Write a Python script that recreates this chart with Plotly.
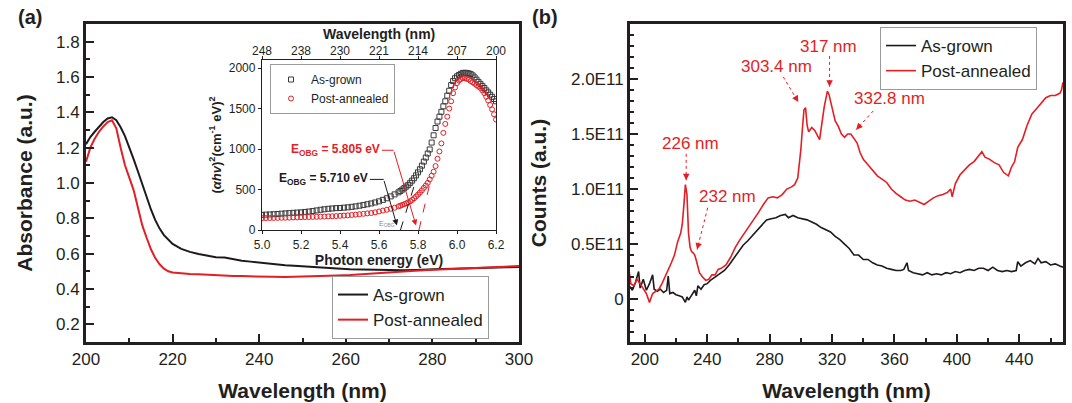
import plotly.graph_objects as go

W, H = 1072, 403
RED = "#e31e24"
BLK = "#1e1a1b"
AX = "#231f20"
FONT = "Arial, Liberation Sans, sans-serif"

# ---------------- Panel (a): absorbance ----------------
wl_a_grown = [200, 201, 202, 203, 204, 205, 206, 207, 208, 209, 210, 211, 212, 213, 214, 215, 216, 217, 218, 219,
              220, 222, 224, 226, 228, 230, 232, 234, 236, 238, 240, 243, 246, 249, 252, 255, 258, 261, 264, 267,
              270, 273, 276, 279, 282, 285, 288, 291, 294, 297, 300]
abs_grown = [1.22, 1.26, 1.29, 1.32, 1.345, 1.365, 1.372, 1.355, 1.315, 1.265, 1.205, 1.135, 1.065, 0.99, 0.92, 0.85, 0.79, 0.742, 0.705, 0.678,
             0.655, 0.627, 0.61, 0.598, 0.588, 0.58, 0.578, 0.568, 0.56, 0.555, 0.549, 0.543, 0.535, 0.53, 0.524, 0.52, 0.516, 0.512, 0.51, 0.507,
             0.505, 0.506, 0.508, 0.512, 0.513, 0.515, 0.518, 0.521, 0.52, 0.523, 0.525]
wl_a_ann = [200, 201, 202, 203, 204, 205, 206, 207, 208, 209, 210, 211, 212, 213, 214, 215, 216, 217, 218, 219,
            220, 222, 224, 226, 228, 230, 232, 234, 236, 238, 240, 243, 246, 249, 252, 255, 258, 261, 264, 267,
            270, 273, 276, 279, 282, 285, 288, 291, 294, 297, 300]
abs_ann = [1.12, 1.2, 1.25, 1.29, 1.32, 1.345, 1.355, 1.31, 1.2, 1.1, 1.03, 0.96, 0.86, 0.76, 0.69, 0.625, 0.575, 0.54, 0.515, 0.5,
           0.493, 0.488, 0.485, 0.483, 0.48, 0.478, 0.476, 0.474, 0.473, 0.471, 0.47, 0.469, 0.468, 0.469, 0.471, 0.473, 0.476, 0.479, 0.483, 0.488,
           0.494, 0.499, 0.503, 0.508, 0.511, 0.514, 0.517, 0.52, 0.523, 0.527, 0.53]

# ---------------- Inset: Tauc plot ----------------
energy = [5.00, 5.02, 5.04, 5.06, 5.08, 5.10, 5.12, 5.14, 5.16, 5.18, 5.20, 5.22, 5.24, 5.26, 5.28, 5.30, 5.32, 5.34,
          5.36, 5.38, 5.40, 5.42, 5.44, 5.46, 5.48, 5.50, 5.52, 5.54, 5.56, 5.58, 5.60, 5.62, 5.64, 5.66, 5.68, 5.70,
          5.71, 5.72, 5.73, 5.74, 5.75, 5.76, 5.77, 5.78, 5.79, 5.80, 5.81, 5.82, 5.83, 5.84, 5.85, 5.86, 5.87, 5.88,
          5.89, 5.90, 5.91, 5.92, 5.93, 5.94, 5.95, 5.96, 5.97, 5.98, 5.99, 6.00, 6.01, 6.02, 6.03, 6.04, 6.05, 6.06,
          6.07, 6.08, 6.09, 6.10, 6.11, 6.12, 6.13, 6.14, 6.15, 6.16, 6.17, 6.18, 6.19, 6.20]
tauc_grown = [187, 190, 192, 195, 198, 202, 205, 208, 212, 215, 218, 223, 228, 235, 242, 250, 256, 262,
              266, 270, 272, 276, 280, 286, 292, 300, 308, 318, 328, 340, 354, 372, 392, 415, 440, 465,
              482, 500, 518, 537, 558, 583, 610, 640, 675, 712, 750, 795, 845, 895, 945, 995, 1080, 1170,
              1260, 1340, 1400, 1460, 1528, 1590, 1660, 1720, 1790, 1840, 1875, 1898, 1915, 1930, 1940, 1942, 1940, 1935,
              1926, 1910, 1885, 1857, 1830, 1805, 1780, 1754, 1725, 1700, 1672, 1645, 1618, 1590]
tauc_ann = [146, 147, 148, 149, 150, 151, 152, 153, 155, 156, 158, 159, 160, 162, 163, 165, 166, 168,
            170, 172, 175, 178, 181, 185, 190, 195, 200, 205, 210, 218, 229, 240, 250, 262, 275, 292,
            300, 310, 320, 330, 342, 354, 372, 392, 414, 437, 462, 490, 520, 550, 583, 625, 670, 720,
            790, 880, 970, 1070, 1200, 1310, 1400, 1500, 1590, 1690, 1760, 1815, 1845, 1865, 1875, 1875, 1868, 1860,
            1840, 1825, 1808, 1790, 1772, 1754, 1725, 1690, 1645, 1600, 1545, 1490, 1430, 1364]
wavelength_ticks = ["248", "238", "230", "221", "214", "207", "200"]
energy_ticks = [5.0, 5.2, 5.4, 5.6, 5.8, 6.0, 6.2]
tauc_ticks = [0, 500, 1000, 1500, 2000]
tangent_grown_x = [5.71, 5.79]
tangent_grown_y = [0, 620]
tangent_ann_x = [5.805, 5.865]
tangent_ann_y = [0, 620]
eobg_ann_text = "<b>E<sub>OBG</sub> = 5.805 eV</b>"
eobg_grown_text = "<b>E<sub>OBG</sub> = 5.710 eV</b>"
arrow_ann_x = [5.615, 5.675, 5.79]
arrow_ann_y = [985, 985, 55]
arrow_grown_x = [5.553, 5.624, 5.692]
arrow_grown_y = [625, 625, 55]

# ---------------- Panel (b): PL counts (units of 1E11) ----------------
wl_b_grown = [190, 192, 194, 196, 197, 199, 201, 203, 205, 206, 208, 210, 212, 214, 215, 216, 218, 220, 222, 224,
              226, 227, 228, 230, 232, 233, 234, 236, 238, 240, 242, 245, 248, 251, 254, 257, 260, 263, 266, 269,
              272, 275, 278, 281, 284, 287, 290, 292, 295, 298, 301, 304, 307, 310, 313, 316, 319, 322, 325, 328,
              331, 334, 337, 340, 343, 346, 349, 352, 355, 358, 361, 364, 366, 368, 369, 372, 375, 378, 381, 384,
              387, 390, 393, 396, 399, 402, 405, 408, 411, 414, 417, 420, 423, 426, 429, 432, 435, 438, 439, 441,
              444, 447, 450, 452, 454, 457, 460, 463, 466, 468]
cnt_grown = [0.12, 0.08, 0.15, 0.25, 0.10, 0.18, 0.08, 0.14, 0.22, 0.09, 0.07, 0.09, 0.06, 0.08, 0.21, 0.05, 0.06, 0.04, 0.03, 0.02,
             -0.03, 0.02, -0.01, 0.04, 0.08, 0.03, 0.12, 0.09, 0.13, 0.14, 0.17, 0.20, 0.23, 0.26, 0.31, 0.37, 0.43, 0.49, 0.53, 0.58,
             0.63, 0.68, 0.72, 0.73, 0.74, 0.76, 0.77, 0.74, 0.76, 0.74, 0.73, 0.72, 0.70, 0.68, 0.65, 0.63, 0.61, 0.57, 0.54, 0.50,
             0.46, 0.40, 0.40, 0.36, 0.36, 0.33, 0.31, 0.30, 0.28, 0.27, 0.26, 0.26, 0.27, 0.33, 0.26, 0.24, 0.23, 0.22, 0.24, 0.22,
             0.23, 0.22, 0.24, 0.23, 0.25, 0.24, 0.26, 0.27, 0.26, 0.28, 0.28, 0.26, 0.29, 0.26, 0.25, 0.26, 0.25, 0.26, 0.34, 0.30,
             0.33, 0.35, 0.32, 0.37, 0.33, 0.34, 0.31, 0.32, 0.30, 0.29]
wl_b_ann = [190, 191, 193, 195, 197, 199, 201, 203, 205, 207, 209, 211, 213, 215, 217, 219, 221, 223, 224, 225,
            226, 227, 228, 229, 230, 231, 232, 233, 234, 235, 237, 239, 241, 243, 245, 247, 249, 252, 255, 258,
            261, 264, 267, 270, 273, 276, 279, 282, 285, 288, 291, 294, 296, 298, 299, 300, 301, 302, 303, 304,
            305, 307, 309, 311, 312, 313, 314, 315, 316, 317, 318, 319, 320, 322, 324, 326, 328, 330, 332, 334,
            336, 338, 340, 343, 346, 349, 352, 355, 358, 361, 364, 367, 370, 373, 376, 379, 382, 385, 388, 391,
            394, 396, 397, 399, 402, 405, 408, 411, 414, 416, 418, 421, 424, 427, 430, 433, 435, 437, 439, 442,
            445, 448, 451, 454, 457, 460, 463, 466, 467, 468]
cnt_ann = [0.25, 0.14, 0.12, 0.18, 0.14, 0.10, 0.05, -0.03, 0.05, 0.07, 0.09, 0.14, 0.20, 0.26, 0.33, 0.40, 0.52, 0.60, 0.68, 0.85,
           1.04, 0.95, 0.60, 0.47, 0.43, 0.42, 0.40, 0.35, 0.28, 0.24, 0.20, 0.17, 0.18, 0.22, 0.22, 0.27, 0.28, 0.31, 0.38, 0.47,
           0.54, 0.60, 0.66, 0.73, 0.79, 0.86, 0.92, 0.93, 0.92, 0.95, 1.00, 1.02, 1.04, 1.10, 1.22, 1.36, 1.55, 1.72, 1.74, 1.58,
           1.52, 1.56, 1.53, 1.48, 1.45, 1.55, 1.68, 1.75, 1.82, 1.89, 1.86, 1.80, 1.72, 1.62, 1.57, 1.50, 1.47, 1.50, 1.50, 1.46,
           1.42, 1.33, 1.27, 1.22, 1.17, 1.12, 1.09, 1.06, 1.00, 0.96, 0.93, 0.90, 0.89, 0.90, 0.88, 0.86, 0.89, 0.92, 0.94, 0.95,
           0.97, 1.00, 0.93, 1.05, 1.13, 1.18, 1.22, 1.25, 1.30, 1.34, 1.29, 1.27, 1.24, 1.22, 1.15, 1.12, 1.20, 1.25, 1.38, 1.45,
           1.58, 1.68, 1.73, 1.78, 1.83, 1.85, 1.85, 1.87, 1.90, 1.97]
counts_tickvals = [0, 0.5, 1.0, 1.5, 2.0]
counts_ticktext = ["0", "0.5E11", "1.0E11", "1.5E11", "2.0E11"]
peak_labels = ["226 nm", "232 nm", "303.4 nm", "317 nm", "332.8 nm"]
peak_label_x = [229.5, 253.0, 284.5, 318.0, 357.0]
peak_label_y = [1.41, 0.93, 2.11, 2.30, 1.82]
peak_tail_x = [226.5, 240.3, 288.7, 318.4, 346.4]
peak_tail_y = [1.32, 0.83, 2.02, 2.21, 1.71]
peak_head_x = [226.5, 233.5, 298.4, 318.4, 335.4]
peak_head_y = [1.08, 0.45, 1.79, 1.93, 1.54]


def px_x(p):
    return p / W


def px_y(p):
    return 1 - p / H


fig = go.Figure()

# panel (a)
fig.add_trace(go.Scatter(x=wl_a_grown, y=abs_grown, mode="lines", name="As-grown",
                         line=dict(color=BLK, width=2), xaxis="x", yaxis="y", legend="legend"))
fig.add_trace(go.Scatter(x=wl_a_ann, y=abs_ann, mode="lines", name="Post-annealed",
                         line=dict(color=RED, width=2), xaxis="x", yaxis="y", legend="legend"))

# inset
fig.add_trace(go.Scatter(x=energy, y=tauc_grown, mode="markers", name="As-grown",
                         marker=dict(symbol="square-open", size=5, color="#3a3a3a", line=dict(width=1)),
                         xaxis="x3", yaxis="y3", legend="legend3"))
fig.add_trace(go.Scatter(x=energy, y=tauc_ann, mode="markers", name="Post-annealed",
                         marker=dict(symbol="circle-open", size=5, color=RED, line=dict(width=1)),
                         xaxis="x3", yaxis="y3", legend="legend3"))
fig.add_trace(go.Scatter(x=tangent_grown_x, y=tangent_grown_y, mode="lines", showlegend=False,
                         line=dict(color=BLK, width=1, dash="dash"), xaxis="x3", yaxis="y3"))
fig.add_trace(go.Scatter(x=tangent_ann_x, y=tangent_ann_y, mode="lines", showlegend=False,
                         line=dict(color=RED, width=1, dash="dash"), xaxis="x3", yaxis="y3"))
# horizontal leader segments of the inset callouts
fig.add_trace(go.Scatter(x=arrow_ann_x[:2], y=arrow_ann_y[:2], mode="lines", showlegend=False,
                         line=dict(color=RED, width=1), xaxis="x3", yaxis="y3"))
fig.add_trace(go.Scatter(x=arrow_grown_x[:2], y=arrow_grown_y[:2], mode="lines", showlegend=False,
                         line=dict(color=BLK, width=1), xaxis="x3", yaxis="y3"))

# panel (b)
fig.add_trace(go.Scatter(x=wl_b_grown, y=cnt_grown, mode="lines", name="As-grown",
                         line=dict(color=BLK, width=1.6), xaxis="x2", yaxis="y2", legend="legend2"))
fig.add_trace(go.Scatter(x=wl_b_ann, y=cnt_ann, mode="lines", name="Post-annealed",
                         line=dict(color=RED, width=1.6), xaxis="x2", yaxis="y2", legend="legend2"))
for tx, ty, hx, hy in zip(peak_tail_x, peak_tail_y, peak_head_x, peak_head_y):
    fig.add_trace(go.Scatter(x=[tx, hx], y=[ty, hy], mode="lines", showlegend=False,
                             line=dict(color=RED, width=1, dash="dot"), xaxis="x2", yaxis="y2"))

main_axis = dict(showgrid=False, zeroline=False, showline=True, linewidth=3, linecolor=AX, mirror=True,
                 ticks="inside", ticklen=8, tickwidth=2, tickcolor=AX, automargin=False,
                 tickfont=dict(size=17, color=AX, family=FONT))
inset_axis = dict(showgrid=False, zeroline=False, showline=True, linewidth=1.3, linecolor=AX,
                  ticks="outside", ticklen=3, tickwidth=1, tickcolor=AX, automargin=False,
                  tickfont=dict(size=12, color=AX, family=FONT))
title_font = dict(size=21, color=AX, family=FONT)
inset_title_font = dict(size=14, color=AX, family=FONT)

dom_a_x = [px_x(86), px_x(519)]
dom_b_x = [px_x(630), px_x(1063)]
dom_y = [px_y(342), px_y(24)]
dom_i_x = [px_x(262), px_x(496)]
dom_i_y = [px_y(230), px_y(60)]

fig.update_layout(
    template="simple_white",
    width=W, height=H, margin=dict(l=0, r=0, t=0, b=0),
    paper_bgcolor="white", plot_bgcolor="white",
    xaxis=dict(**main_axis, domain=dom_a_x, anchor="y", range=[200, 300], tick0=200, dtick=20,
               minor=dict(dtick=10, tick0=200, ticks="inside", ticklen=4, tickwidth=2, tickcolor=AX),
               title=dict(text="<b>Wavelength (nm)</b>", font=title_font, standoff=15)),
    yaxis=dict(**main_axis, domain=dom_y, anchor="x", range=[0.1, 1.9], tick0=0.2, dtick=0.2, tickformat=".1f",
               minor=dict(dtick=0.1, tick0=0.1, ticks="inside", ticklen=4, tickwidth=2, tickcolor=AX),
               title=dict(text="<b>Absorbance (a.u.)</b>", font=title_font, standoff=18)),
    xaxis2=dict(**main_axis, domain=dom_b_x, anchor="y2", range=[190.5, 468], tick0=200, dtick=40,
                minor=dict(dtick=20, tick0=200, ticks="inside", ticklen=4, tickwidth=2, tickcolor=AX),
                title=dict(text="<b>Wavelength (nm)</b>", font=title_font, standoff=15)),
    yaxis2=dict(**main_axis, domain=dom_y, anchor="x2", range=[-0.39, 2.5], tickmode="array",
                tickvals=counts_tickvals, ticktext=counts_ticktext,
                minor=dict(dtick=0.1, tick0=0, ticks="inside", ticklen=4, tickwidth=2, tickcolor=AX),
                title=dict(text="<b>Counts (a.u.)</b>", font=title_font, standoff=19)),
    xaxis3=dict(**inset_axis, mirror="ticks", domain=dom_i_x, anchor="y3", range=[5.0, 6.2], tickmode="array",
                tickvals=energy_ticks, tickformat=".1f",
                title=dict(text="<b>Photon energy (eV)</b>", font=inset_title_font, standoff=0)),
    yaxis3=dict(**inset_axis, mirror=True, domain=dom_i_y, anchor="x3", range=[0, 2100], tickmode="array",
                tickvals=tauc_ticks,
                title=dict(text="<b>(<i>αhv</i>)<sup>2</sup>(cm<sup>-1</sup> eV)<sup>2</sup></b>",
                           font=dict(size=13, color=AX, family=FONT), standoff=4)),
    legend=dict(x=px_x(332), y=px_y(276), xanchor="left", yanchor="top", bgcolor="white",
                bordercolor="#9a9a9a", borderwidth=1, font=dict(size=17, family=FONT, color=AX),
                tracegroupgap=0, itemwidth=30),
    legend2=dict(x=px_x(880), y=px_y(27), xanchor="left", yanchor="top", bgcolor="white",
                 bordercolor="#9a9a9a", borderwidth=1, font=dict(size=17, family=FONT, color=AX),
                 tracegroupgap=0, itemwidth=30),
    legend3=dict(x=px_x(270), y=px_y(64), xanchor="left", yanchor="top", bgcolor="white",
                 bordercolor="#9a9a9a", borderwidth=1, font=dict(size=12, family=FONT, color=AX),
                 tracegroupgap=0, itemwidth=30),
)

annotations = [
    dict(text="<b>(a)</b>", x=px_x(30), y=px_y(17), xref="paper", yref="paper", showarrow=False,
         xanchor="center", yanchor="middle", font=dict(size=20, color=AX, family=FONT)),
    dict(text="<b>(b)</b>", x=px_x(545), y=px_y(17), xref="paper", yref="paper", showarrow=False,
         xanchor="center", yanchor="middle", font=dict(size=20, color=AX, family=FONT)),
    dict(text=eobg_ann_text, x=arrow_ann_x[0], y=arrow_ann_y[0], xref="x3", yref="y3", xanchor="right",
         showarrow=False, font=dict(size=12, color=RED, family=FONT)),
    dict(text=eobg_grown_text, x=arrow_grown_x[0], y=arrow_grown_y[0], xref="x3", yref="y3", xanchor="right",
         showarrow=False, font=dict(size=12, color=BLK, family=FONT)),
    dict(text="E<sub>OBG</sub>", x=5.64, y=70, xref="x3", yref="y3", showarrow=False,
         font=dict(size=7, color="#8a8a8a", family=FONT)),
    # top wavelength axis title of the inset
    dict(text="<b>Wavelength (nm)</b>", x=(energy_ticks[0] + energy_ticks[-1]) / 2, y=px_y(34),
         xref="x3", yref="paper", showarrow=False, xanchor="center", yanchor="middle",
         font=inset_title_font),
    # inset arrows (bend -> head)
    dict(text="", x=arrow_ann_x[2], y=arrow_ann_y[2], ax=arrow_ann_x[1], ay=arrow_ann_y[1],
         xref="x3", yref="y3", axref="x3", ayref="y3", showarrow=True, arrowhead=2, arrowsize=1.2,
         arrowwidth=1, arrowcolor=RED, standoff=0),
    dict(text="", x=arrow_grown_x[2], y=arrow_grown_y[2], ax=arrow_grown_x[1], ay=arrow_grown_y[1],
         xref="x3", yref="y3", axref="x3", ayref="y3", showarrow=True, arrowhead=2, arrowsize=1.2,
         arrowwidth=1, arrowcolor=BLK, standoff=0),
]
# top wavelength tick labels of the inset (same positions as the energy ticks)
for e, lab in zip(energy_ticks, wavelength_ticks):
    annotations.append(dict(text=lab, x=e, y=px_y(51), xref="x3", yref="paper", showarrow=False,
                            xanchor="center", yanchor="middle",
                            font=dict(size=12, color=AX, family=FONT)))
for t, x, y in zip(peak_labels, peak_label_x, peak_label_y):
    annotations.append(dict(text=t, x=x, y=y, xref="x2", yref="y2", showarrow=False,
                            font=dict(size=17, color=RED, family=FONT)))
# arrowheads at the end of the dotted pointers (short shaft along the pointer)
for tx, ty, hx, hy in zip(peak_tail_x, peak_tail_y, peak_head_x, peak_head_y):
    annotations.append(dict(text="", x=hx, y=hy, ax=hx + 0.2 * (tx - hx), ay=hy + 0.2 * (ty - hy),
                            xref="x2", yref="y2", axref="x2", ayref="y2", showarrow=True,
                            arrowhead=2, arrowsize=1.3, arrowwidth=1, arrowcolor=RED, standoff=0))
fig.update_layout(annotations=annotations)

fig.write_html("out.html", config={"displayModeBar": False},
               post_script="document.body.style.margin='0';")
